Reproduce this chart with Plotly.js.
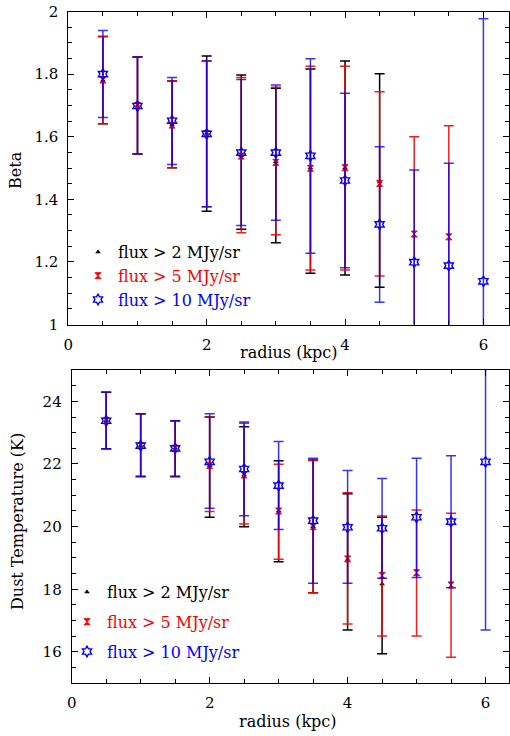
<!DOCTYPE html>
<html>
<head>
<meta charset="utf-8">
<script src="https://cdn.plot.ly/plotly-3.0.1.min.js"></script>
<style>html,body{margin:0;padding:0;background:#fff;}#chart{width:510px;height:736px;}</style>
</head>
<body>
<div id="chart"></div>
<script>
// ---------- data ----------
const radiusBlack = [0.5, 1.0, 1.5, 2.0, 2.5, 3.0, 3.5, 4.0, 4.5];
const radiusRed   = [0.5, 1.0, 1.5, 2.0, 2.5, 3.0, 3.5, 4.0, 4.5, 5.0, 5.5];
const radiusBlue  = [0.5, 1.0, 1.5, 2.0, 2.5, 3.0, 3.5, 4.0, 4.5, 5.0, 5.5, 6.0];

// Beta (top panel)
const betaBlack    = [1.78, 1.70, 1.637, 1.61, 1.54, 1.52, 1.50, 1.50, 1.455];
const betaBlackHi  = [1.92, 1.855, 1.778, 1.858, 1.797, 1.755, 1.816, 1.842, 1.801];
const betaBlackLo  = [1.641, 1.545, 1.501, 1.362, 1.304, 1.261, 1.164, 1.158, 1.119];

const betaRed      = [1.781, 1.70, 1.637, 1.61, 1.538, 1.518, 1.499, 1.501, 1.451, 1.289, 1.280];
const betaRedHi    = [1.920, 1.855, 1.778, 1.842, 1.789, 1.758, 1.825, 1.825, 1.744, 1.600, 1.635];
const betaRedLo    = [1.641, 1.545, 1.501, 1.376, 1.293, 1.287, 1.174, 1.174, 1.155, 0.97, 0.93];

const betaBlue     = [1.80, 1.698, 1.651, 1.609, 1.549, 1.549, 1.539, 1.460, 1.320, 1.199, 1.188, 1.138];
const betaBlueHi   = [1.939, 1.855, 1.789, 1.842, 1.783, 1.765, 1.849, 1.739, 1.568, 1.494, 1.515, 1.977];
const betaBlueLo   = [1.661, 1.545, 1.511, 1.376, 1.316, 1.333, 1.228, 1.181, 1.071, 0.90, 0.86, 0.30];

// Dust temperature (bottom panel)
const tempBlack    = [23.38, 22.585, 22.50, 21.95, 21.65, 20.50, 20.0, 18.95, 18.17];
const tempBlackHi  = [24.29, 23.60, 23.38, 23.50, 23.19, 22.10, 22.13, 21.05, 20.30];
const tempBlackLo  = [22.49, 21.60, 21.60, 20.30, 20.00, 18.88, 17.89, 16.70, 15.94];

const tempRed      = [23.38, 22.585, 22.50, 21.95, 21.65, 20.50, 20.0, 18.97, 18.44, 18.53, 18.14];
const tempRedHi    = [24.29, 23.60, 23.38, 23.49, 23.30, 21.99, 22.11, 21.08, 20.34, 20.53, 20.43];
const tempRedLo    = [22.49, 21.60, 21.60, 20.48, 20.085, 18.96, 17.89, 16.89, 16.51, 16.51, 15.83];

const tempBlue     = [23.38, 22.585, 22.50, 22.07, 21.84, 21.31, 20.19, 19.98, 19.95, 20.30, 20.16, 22.07];
const tempBlueHi   = [24.29, 23.60, 23.38, 23.60, 23.34, 22.72, 22.18, 21.79, 21.54, 22.18, 22.26, 27.0];
const tempBlueLo   = [22.49, 21.60, 21.60, 20.585, 20.35, 19.91, 18.19, 18.19, 18.35, 18.38, 18.05, 16.70];

const seriesNames = ['flux > 2 MJy/sr', 'flux > 5 MJy/sr', 'flux > 10 MJy/sr'];

// ---------- helpers ----------
const FONT = 'DejaVu Serif, Liberation Serif, serif';
const BLACK = '#000000', RED = '#ff0000', BLUE = '#0000ff';
const errCol = ['rgba(0,0,0,1)', 'rgba(255,0,0,0.9)', 'rgba(0,0,255,0.8)'];
const mk = [
  {symbol: 'triangle-up', size: 5, color: BLACK},
  {symbol: 'hourglass', size: 6, color: RED, line: {color: RED, width: 1}},
  {symbol: 'hexagram-open', size: 8, color: BLUE, line: {color: BLUE, width: 1.4}}
];
const cols = [BLACK, RED, BLUE];

function diffs(hi, v) { return hi.map((h, i) => h - v[i]); }
function diffsLo(lo, v) { return v.map((c, i) => c - lo[i]); }

function trace(i, x, y, hi, lo, xa, ya, leg) {
  return {
    type: 'scatter', mode: 'markers', x: x, y: y,
    xaxis: xa, yaxis: ya, legend: leg, legendgroup: leg + i,
    name: '<span style="color:' + cols[i] + '">' + seriesNames[i] + '</span>',
    marker: mk[i],
    error_y: {type: 'data', symmetric: false, array: diffs(hi, y), arrayminus: diffsLo(lo, y),
              color: errCol[i], thickness: 1.5, width: 5},
    hoverinfo: 'x+y'
  };
}

const data = [
  trace(0, radiusBlack, betaBlack, betaBlackHi, betaBlackLo, 'x', 'y', 'legend'),
  trace(1, radiusRed, betaRed, betaRedHi, betaRedLo, 'x', 'y', 'legend'),
  trace(2, radiusBlue, betaBlue, betaBlueHi, betaBlueLo, 'x', 'y', 'legend'),
  trace(0, radiusBlack, tempBlack, tempBlackHi, tempBlackLo, 'x2', 'y2', 'legend2'),
  trace(1, radiusRed, tempRed, tempRedHi, tempRedLo, 'x2', 'y2', 'legend2'),
  trace(2, radiusBlue, tempBlue, tempBlueHi, tempBlueLo, 'x2', 'y2', 'legend2')
];

function axis(extra, minorDtick) {
  return Object.assign({
    showline: true, linecolor: '#000', linewidth: 1, mirror: 'allticks',
    ticks: 'inside', ticklen: 6, tickwidth: 1, tickcolor: '#000',
    showgrid: false, zeroline: false, ticklabelstandoff: 6,
    tickfont: {family: FONT, size: 15, color: '#000'},
    minor: {ticks: 'inside', ticklen: 4, tickwidth: 1, tickcolor: '#000', dtick: minorDtick, showgrid: false}
  }, extra);
}

const W = 510, H = 736;
const px = v => v / W, py = v => (H - v) / H;

const layout = {
  width: W, height: H,
  margin: {l: 0, r: 0, t: 0, b: 0},
  paper_bgcolor: '#fff', plot_bgcolor: '#fff',
  font: {family: FONT, color: '#000'},
  showlegend: true,
  xaxis: axis({domain: [px(68.3), px(509)], range: [0, 6.37], dtick: 2, tick0: 0, anchor: 'y'}, 0.5),
  yaxis: axis({domain: [py(324.5), py(11.5)], range: [1, 2], dtick: 0.2, tick0: 0, anchor: 'x'}, 0.05),
  xaxis2: axis({domain: [px(71.7), px(509)], range: [0, 6.34], dtick: 2, tick0: 0, anchor: 'y2'}, 0.5),
  yaxis2: axis({domain: [py(683.3), py(370)], range: [15, 25], dtick: 2, tick0: 0, anchor: 'x2'}, 0.5),
  legend: {x: px(78), y: py(235), xanchor: 'left', yanchor: 'top', bgcolor: 'rgba(0,0,0,0)',
           borderwidth: 0, font: {family: FONT, size: 16}, traceorder: 'grouped', tracegroupgap: 0},
  legend2: {x: px(67), y: py(575), xanchor: 'left', yanchor: 'top', bgcolor: 'rgba(0,0,0,0)',
           borderwidth: 0, font: {family: FONT, size: 16}, traceorder: 'grouped', tracegroupgap: 6},
  annotations: [
    {text: 'Beta', xref: 'paper', yref: 'paper', x: px(16), y: py(170), textangle: -90,
     showarrow: false, font: {family: FONT, size: 16}, xanchor: 'center', yanchor: 'middle'},
    {text: 'radius (kpc)', xref: 'paper', yref: 'paper', x: px(289), y: py(352),
     showarrow: false, font: {family: FONT, size: 16}, xanchor: 'center', yanchor: 'middle'},
    {text: 'Dust Temperature (K)', xref: 'paper', yref: 'paper', x: px(17), y: py(522), textangle: -90,
     showarrow: false, font: {family: FONT, size: 16}, xanchor: 'center', yanchor: 'middle'},
    {text: 'radius (kpc)', xref: 'paper', yref: 'paper', x: px(288), y: py(721.5),
     showarrow: false, font: {family: FONT, size: 16}, xanchor: 'center', yanchor: 'middle'}
  ]
};

Plotly.newPlot('chart', data, layout, {staticPlot: true, displayModeBar: false});
</script>
</body>
</html>
